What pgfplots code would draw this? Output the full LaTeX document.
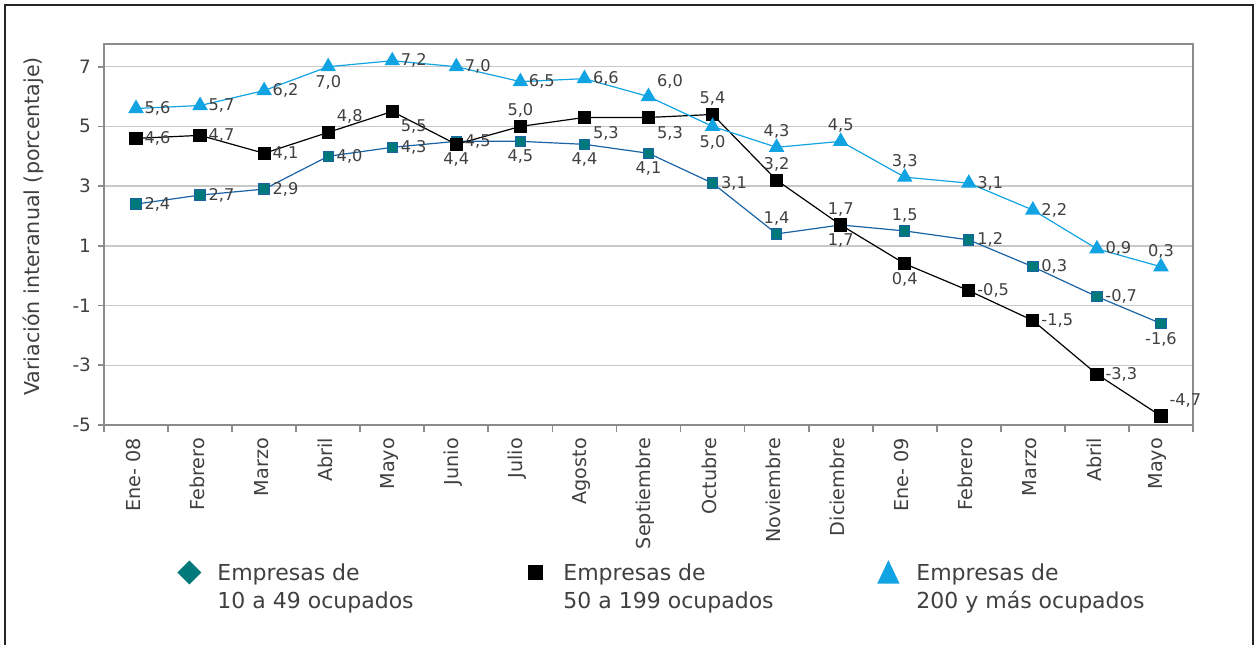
\documentclass[border=0pt]{standalone}
\usepackage{fontspec}
\setmainfont{DejaVu Sans}
\usepackage{pgfplots}
\pgfplotsset{compat=1.18}
\definecolor{tealM}{HTML}{00797A}
\definecolor{blueL}{HTML}{1A63A5}
\definecolor{cyanT}{HTML}{12A3E3}
\definecolor{txt}{HTML}{404040}
\definecolor{gridc}{HTML}{C8C8C8}
\definecolor{axc}{HTML}{8C8C8C}

\newcommand\lblfont{\fontsize{8.1}{9}\selectfont}
\newcommand\tickfont{\fontsize{9.2}{11}\selectfont}
\newcommand\ylabfont{\fontsize{10.3}{12}\selectfont}
\newcommand\catfont{\fontsize{9.6}{11}\selectfont}
\newcommand\legfont{\fontsize{11}{14}\selectfont}

\pgfplotsset{
  lbls/.style={
    nodes near coords,
    point meta=explicit,
    visualization depends on={value \thisrow{a}\as\myanchor},
    every node near coord/.style={anchor=\myanchor, inner sep=4pt, font=\lblfont, text=txt,
      /pgf/number format/.cd, fixed, fixed zerofill, precision=1, use comma, assume math mode=true},
  }
}

\begin{document}
\begin{tikzpicture}
\useasboundingbox (0,0) rectangle (629.5pt,322pt);
\draw[color=black!85, line width=0.6pt] (2.5pt,-3pt) rectangle (626.5pt,319.5pt);
\begin{axis}[
  at={(52pt,109.5pt)}, anchor=south west,
  scale only axis, width=544.5pt, height=190.5pt,
  xmin=-0.5, xmax=16.5, ymin=-5, ymax=7.76,
  ytick={-5,-3,...,7},
  xtick={0,...,16},
  xticklabels={Ene- 08, Febrero, Marzo, Abril, Mayo, Junio, Julio, Agosto, Septiembre, Octubre, Noviembre, Diciembre, Ene- 09, Febrero, Marzo, Abril, Mayo},
  minor xtick={-0.5,0.5,...,16.5},
  major x tick style={draw=none},
  tick align=outside, tick pos=left,
  major tick length=3pt, minor tick length=3.5pt,
  ymajorgrids, grid style={gridc, line width=0.7pt},
  axis line style={axc, line width=0.9pt},
  every tick/.style={axc, line width=0.9pt},
  minor x tick style={axc, line width=0.9pt},
  xticklabel style={rotate=90, anchor=east, font=\catfont, text=txt, yshift=1.5pt},
  yticklabel style={font=\tickfont, text=txt},
  /pgf/number format/assume math mode=true,
  ylabel={Variación interanual (porcentaje)},
  ylabel style={at={(axis description cs:-0.065,0.521)}, anchor=center, rotate=0, font=\ylabfont, text=txt},
  legend columns=3,
  legend style={at={(axis description cs:0.0597,-0.343)}, anchor=north west, draw=none, fill=none,
    nodes={inner sep=0pt, text=txt, font=\legfont}, cells={anchor=base west},
    /tikz/every even column/.style={column sep=0pt}},
]
\addlegendimage{legend image code/.code={\path[draw=none, fill=none] (0pt,-4pt) rectangle (21pt,8pt);
  \fill[tealM, draw=none] (7pt,10pt) -- (13pt,4pt) -- (7pt,-2pt) -- (1pt,4pt) -- cycle;}}
\addlegendentry{\parbox[t]{152pt}{Empresas de\\10 a 49 ocupados}}
\addlegendimage{legend image code/.code={\path[draw=none, fill=none] (0pt,-4pt) rectangle (21pt,8pt);
  \fill[black, draw=none] (3.3pt,0.2pt) rectangle (10.7pt,7.6pt);}}
\addlegendentry{\parbox[t]{155.5pt}{Empresas de\\50 a 199 ocupados}}
\addlegendimage{legend image code/.code={\path[draw=none, fill=none] (0pt,-4pt) rectangle (21pt,8pt);
  \fill[cyanT, draw=none] (7pt,10.2pt) -- (12.6pt,-1.6pt) -- (1.4pt,-1.6pt) -- cycle;}}
\addlegendentry{\parbox[t]{155pt}{Empresas de\\200 y más ocupados}}

\addplot[forget plot, lbls, blueL, line width=0.6pt, mark=square*, mark size=2.6pt,
  mark options={fill=tealM, draw=blueL, line width=0.5pt}] table[x=x, y=y, meta=y] {
x y a
0 2.4 west
1 2.7 west
2 2.9 west
3 4.0 west
4 4.3 west
5 4.5 west
6 4.5 north
7 4.4 north
8 4.1 north
9 3.1 west
10 1.4 south
11 1.7 south
12 1.5 south
13 1.2 west
14 0.3 west
15 -0.7 west
16 -1.6 north
};
\addplot[forget plot, lbls, black, line width=0.6pt, mark=square*, mark size=3pt,
  mark options={fill=black, draw=black}] table[x=x, y=y, meta=y] {
x y a
0 4.6 west
1 4.7 west
2 4.1 west
3 4.8 {south west}
4 5.5 {north west}
5 4.4 north
6 5.0 south
7 5.3 {north west}
8 5.3 {north west}
9 5.4 south
10 3.2 south
11 1.7 north
12 0.4 north
13 -0.5 west
14 -1.5 west
15 -3.3 west
16 -4.7 {south west}
};
\addplot[forget plot, lbls, cyanT, line width=0.6pt, mark=triangle*, mark size=3.9pt,
  mark options={fill=cyanT, draw=cyanT}] table[x=x, y=y, meta=y] {
x y a
0 5.6 west
1 5.7 west
2 6.2 west
3 7.0 north
4 7.2 west
5 7.0 west
6 6.5 west
7 6.6 west
8 6.0 {south west}
9 5.0 north
10 4.3 south
11 4.5 south
12 3.3 south
13 3.1 west
14 2.2 west
15 0.9 west
16 0.3 south
};
\end{axis}
\end{tikzpicture}
\end{document}
